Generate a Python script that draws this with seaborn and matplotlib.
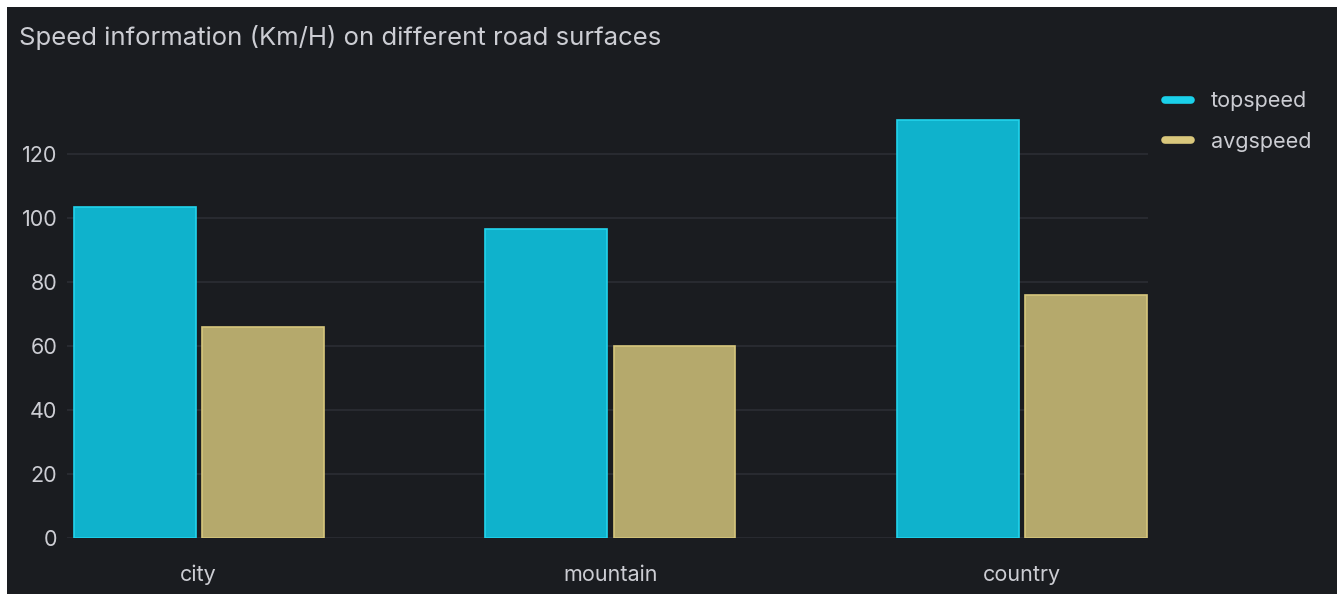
import matplotlib
matplotlib.use("Agg")
import matplotlib.pyplot as plt
from matplotlib.lines import Line2D
from matplotlib.patches import Rectangle
import pandas as pd
import seaborn as sns

# Speed readings per road surface (km/h)
surfaces = ["city", "mountain", "country"]
topspeed = [103.4, 96.4, 130.4]
avgspeed = [65.7, 59.8, 76.0]
series_names = ["topspeed", "avgspeed"]
y_ticks = [0, 20, 40, 60, 80, 100, 120]

df = pd.DataFrame({
    "surface": surfaces * 2,
    "series": [series_names[0]] * 3 + [series_names[1]] * 3,
    "speed": topspeed + avgspeed,
})

BG = "#1a1c20"
GRID = "#2b2e34"
TEXT = "#cccdd3"
fills = {"topspeed": "#0fb2cc", "avgspeed": "#b5a96c"}
edges = {"topspeed": "#22d3ec", "avgspeed": "#d6c67c"}
legend_colors = {"topspeed": "#1ad0ea", "avgspeed": "#d9c77c"}

sns.set_theme(style="dark")
plt.rcParams["font.family"] = ["Inter", "DejaVu Sans"]

W, H = 1343, 594
fig = plt.figure(figsize=(W / 100, H / 100), dpi=100, facecolor="white")
fig.patches.append(Rectangle((7 / W, 0), (1337 - 7) / W, (H - 7) / H,
                             transform=fig.transFigure, facecolor=BG,
                             edgecolor="none", zorder=-10))

ax = fig.add_axes([67 / W, (H - 537.7) / H, (1148 - 67) / W, (537.7 - 89.7) / H])
ax.set_facecolor(BG)

sns.barplot(data=df, x="surface", y="speed", hue="series", order=surfaces,
            hue_order=series_names, palette=fills, width=0.623, gap=0.05,
            ax=ax, legend=False, saturation=1)

for container, name in zip(ax.containers, series_names):
    for bar in container:
        bar.set_edgecolor(edges[name])
        bar.set_linewidth(1.2)
        bar.set_zorder(3)

ax.set_xlim(-0.320, 2.306)
ax.set_ylim(0, 140)
ax.set_yticks(y_ticks)
ax.yaxis.grid(True, color=GRID, linewidth=1.2, zorder=0)
ax.xaxis.grid(False)
ax.set_axisbelow(True)
for s in ax.spines.values():
    s.set_visible(False)
ax.set_xlabel("")
ax.set_ylabel("")
ax.tick_params(axis="y", length=0, pad=7, labelsize=15.5, labelcolor=TEXT)
ax.tick_params(axis="x", length=0, pad=19.5, labelsize=15.5, labelcolor=TEXT)

fig.text(19 / W, 1 - 38 / H, "Speed information (Km/H) on different road surfaces",
         color=TEXT, fontsize=18.5, ha="left", va="center")

handles = [Line2D([0], [0], color=legend_colors[n], linewidth=5.5,
                  solid_capstyle="round") for n in series_names]
fig.legend(handles, series_names, loc="upper left",
           bbox_to_anchor=(1146 / W, 1 - 72 / H), frameon=False,
           handlelength=1.2, handletextpad=0.9, labelspacing=0.95,
           fontsize=15.5, labelcolor=TEXT)

fig.savefig("out.png", dpi=100, facecolor=fig.get_facecolor())
